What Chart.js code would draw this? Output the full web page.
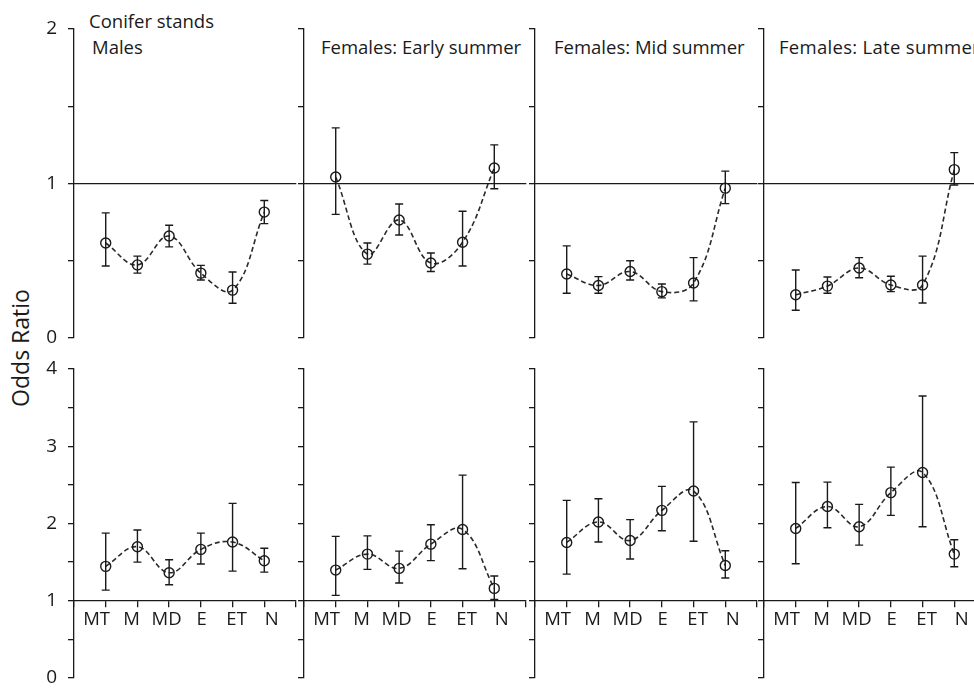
<!DOCTYPE html>
<html>
<head>
<meta charset="utf-8">
<script src="https://cdn.jsdelivr.net/npm/chart.js@4.4.1/dist/chart.umd.min.js"></script>
<style>
  body { margin: 0; width: 974px; height: 689px; overflow: hidden; background: #fff;
         font-family: "Open Sans", sans-serif; color: #1a1a1a; position: relative; }
  canvas { position: absolute; }
  .title { position: absolute; font-size: 18.5px; line-height: 18px; white-space: nowrap; }
  #ylab { position: absolute; left: -80px; top: 336px; width: 200px; text-align: center;
          font-size: 23px; line-height: 24px; transform: rotate(-90deg); }
</style>
</head>
<body>
<div class="title" style="left:89px; top:12px">Conifer stands</div>
<div class="title" style="left:92px; top:38px">Males</div>
<div class="title" style="left:321px; top:38px">Females: Early summer</div>
<div class="title" style="left:554px; top:38px">Females: Mid summer</div>
<div class="title" style="left:779px; top:38px; letter-spacing:0.3px">Females: Late summer</div>
<div id="ylab">Odds Ratio</div>
<script>
const categories = ["MT", "M", "MD", "E", "ET", "N"];
const topRowTicks = [0, 0.5, 1, 1.5, 2];
const bottomRowTicks = [0, 0.5, 1, 1.5, 2, 2.5, 3, 3.5, 4];

// top row: conifer stands
const coniferMales   = [0.615, 0.473, 0.66, 0.42, 0.31, 0.815];
const coniferMalesLo = [0.466, 0.42, 0.59, 0.375, 0.225, 0.74];
const coniferMalesHi = [0.81, 0.53, 0.73, 0.47, 0.427, 0.89];

const coniferEarly   = [1.042, 0.543, 0.764, 0.485, 0.62, 1.10];
const coniferEarlyLo = [0.80, 0.478, 0.667, 0.43, 0.466, 0.966];
const coniferEarlyHi = [1.36, 0.615, 0.867, 0.55, 0.82, 1.25];

const coniferMid   = [0.414, 0.34, 0.43, 0.30, 0.356, 0.97];
const coniferMidLo = [0.29, 0.29, 0.375, 0.26, 0.24, 0.87];
const coniferMidHi = [0.596, 0.397, 0.50, 0.35, 0.52, 1.08];

const coniferLate   = [0.28, 0.336, 0.453, 0.343, 0.343, 1.09];
const coniferLateLo = [0.18, 0.29, 0.39, 0.30, 0.227, 0.99];
const coniferLateHi = [0.44, 0.395, 0.52, 0.40, 0.53, 1.20];

// bottom row
const row2Males   = [1.445, 1.70, 1.362, 1.665, 1.76, 1.518];
const row2MalesLo = [1.138, 1.50, 1.207, 1.475, 1.384, 1.37];
const row2MalesHi = [1.876, 1.915, 1.53, 1.876, 2.26, 1.68];

const row2Early   = [1.397, 1.604, 1.419, 1.733, 1.923, 1.16];
const row2EarlyLo = [1.07, 1.406, 1.229, 1.52, 1.414, 1.018];
const row2EarlyHi = [1.833, 1.84, 1.643, 1.983, 2.626, 1.32];

const row2Mid   = [1.755, 2.02, 1.78, 2.17, 2.42, 1.457];
const row2MidLo = [1.345, 1.76, 1.54, 1.906, 1.77, 1.294];
const row2MidHi = [2.30, 2.32, 2.05, 2.48, 3.316, 1.647];

const row2Late   = [1.936, 2.22, 1.958, 2.40, 2.66, 1.604];
const row2LateLo = [1.479, 1.945, 1.72, 2.105, 1.958, 1.44];
const row2LateHi = [2.53, 2.535, 2.247, 2.73, 3.65, 1.79];

const ink = "#1a1a1a";
const axisX = [74, 304, 535, 764];
const rowTop = [29, 369];
const plotW = 222, plotH = 309;

Chart.defaults.font.family = "'Open Sans', sans-serif";
Chart.defaults.color = ink;

// draws the vertical error bars with caps
const errorBars = {
  id: "errorBars",
  afterDatasetsDraw(chart) {
    const { ctx, scales: { x, y } } = chart;
    chart.data.datasets.forEach(ds => {
      if (!ds.lo) return;
      ctx.save();
      ctx.strokeStyle = ink;
      ctx.lineWidth = 1.4;
      ds.lo.forEach((lo, i) => {
        const px = x.getPixelForValue(i + 1);
        const yl = y.getPixelForValue(lo);
        const yh = y.getPixelForValue(ds.hi[i]);
        ctx.beginPath();
        ctx.moveTo(px, yl); ctx.lineTo(px, yh);
        ctx.moveTo(px - 4, yl); ctx.lineTo(px + 4, yl);
        ctx.moveTo(px - 4, yh); ctx.lineTo(px + 4, yh);
        ctx.stroke();
      });
      ctx.restore();
    });
  }
};

function makePanel(row, col, mean, lo, hi) {
  const yW = col === 0 ? 74 : 30;
  // y tick labels ask for (half label height + tick padding) above and below, so keep pads larger
  const padT = 26, padB = 26, padR = 8;
  const canvas = document.createElement("canvas");
  canvas.width = yW + plotW + padR;
  canvas.height = padT + plotH + padB;
  canvas.style.left = (axisX[col] - yW) + "px";
  canvas.style.top = (rowTop[row] - padT) + "px";
  document.body.appendChild(canvas);

  const yTicks = row === 0 ? topRowTicks : bottomRowTicks;

  new Chart(canvas, {
    type: "line",
    data: {
      datasets: [{
        data: mean.map((v, i) => ({ x: i + 1, y: v })),
        lo: lo,
        hi: hi,
        borderColor: "#2a2a2a",
        borderWidth: 1.6,
        borderDash: [5, 3],
        tension: 0.4,
        fill: false,
        pointRadius: 5,
        pointBorderWidth: 1.4,
        pointBorderColor: ink,
        pointBackgroundColor: "rgba(255,255,255,0)",
        clip: false
      }]
    },
    options: {
      responsive: false,
      animation: false,
      devicePixelRatio: 1,
      layout: { padding: { top: padT, bottom: padB, left: 0, right: padR } },
      plugins: { legend: { display: false }, tooltip: { enabled: false } },
      scales: {
        x: {
          type: "linear", min: 0, max: 7, position: { y: 1 },
          afterBuildTicks: s => { s.ticks = [0, 1, 2, 3, 4, 5, 6, 7].map(v => ({ value: v })); },
          grid: { display: row === 1, drawOnChartArea: false, drawTicks: true, tickLength: 6, color: ink, lineWidth: 1.3 },
          border: { display: true, color: ink, width: 1.3 },
          ticks: { display: false }
        },
        // category labels sit a little wider apart than the tick marks in the original
        xl: {
          type: "linear", min: 0.354, max: 6.697, position: { y: 1 }, display: row === 1,
          afterBuildTicks: s => { s.ticks = categories.map((c, i) => ({ value: i + 1 })); },
          grid: { display: false },
          border: { display: false },
          ticks: { autoSkip: false, maxRotation: 0, padding: 0, font: { size: 18.5 },
                   callback: v => categories[v - 1] }
        },
        y: {
          type: "linear", min: 0, max: yTicks[yTicks.length - 1], position: "left",
          afterBuildTicks: s => { s.ticks = yTicks.map(v => ({ value: v })); },
          afterFit: s => { s.width = yW; },
          grid: { drawOnChartArea: false, drawTicks: true, tickLength: 6, color: ink, lineWidth: 1.3 },
          border: { color: ink, width: 1.3 },
          ticks: { autoSkip: false, padding: 11, font: { size: 19 },
                   callback: v => (col === 0 && Number.isInteger(v)) ? v : "" }
        }
      }
    },
    plugins: [errorBars]
  });
}

makePanel(0, 0, coniferMales, coniferMalesLo, coniferMalesHi);
makePanel(0, 1, coniferEarly, coniferEarlyLo, coniferEarlyHi);
makePanel(0, 2, coniferMid, coniferMidLo, coniferMidHi);
makePanel(0, 3, coniferLate, coniferLateLo, coniferLateHi);
makePanel(1, 0, row2Males, row2MalesLo, row2MalesHi);
makePanel(1, 1, row2Early, row2EarlyLo, row2EarlyHi);
makePanel(1, 2, row2Mid, row2MidLo, row2MidHi);
makePanel(1, 3, row2Late, row2LateLo, row2LateHi);
</script>
</body>
</html>
